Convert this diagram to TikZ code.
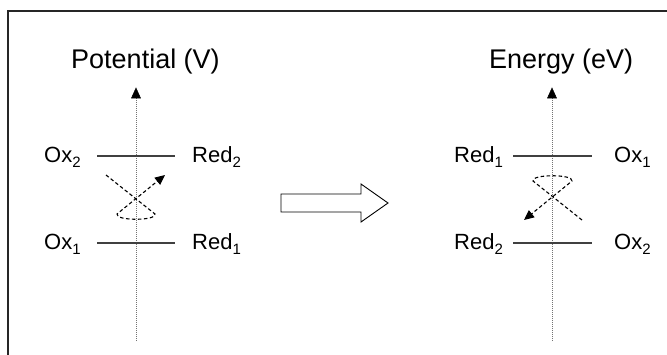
\documentclass[tikz,border=0pt]{standalone}
\usepackage{fontspec}
\setmainfont{Liberation Sans}
\usetikzlibrary{arrows.meta}
\newcommand\sbs[1]{\raisebox{-5pt}{\fontsize{15}{15}\selectfont #1}}
\begin{document}
\begin{tikzpicture}[x=1pt,y=-1pt,
  title/.style={anchor=base west,inner sep=0pt,font=\fontsize{27}{30}\selectfont},
  lbl/.style={anchor=base west,inner sep=0pt,font=\fontsize{22}{24}\selectfont},
  axis/.style={draw=black!55,line width=1pt,dash pattern=on 1pt off 1pt},
  axtip/.style={draw=black,fill=black,line width=0.5pt},
  level/.style={draw=black!75,line width=1.3pt},
  dsh/.style={draw=black,line width=1.1pt,dash pattern=on 3.5pt off 2.5pt},
  dsharrow/.style={dsh,-{Triangle[length=10pt,width=9pt,color=black]}},
  frame/.style={draw=black!85,line width=1.5pt},
  block/.style={draw=black,line width=0.9pt,fill=white}]
\useasboundingbox (0,0) rectangle (667,354);
% frame
\coordinate (fbl) at (8,360);
\coordinate (ftl) at (8,11);
\coordinate (ftr) at (672,11);
\draw[frame] (fbl) -- (ftl) -- (ftr);
% titles
\node[title] (t1) at (71,68) {Potential (V)};
\node[title] (t2) at (489,68) {Energy (eV)};
% axes
\coordinate (a1b) at (136,341);
\coordinate (a1m) at (136,98);
\coordinate (a1t) at (136,88);
\coordinate (a1l) at (131.5,98);
\coordinate (a1r) at (140.5,98);
\coordinate (a2b) at (552,341);
\coordinate (a2m) at (552,98);
\coordinate (a2t) at (552,88);
\coordinate (a2l) at (547.5,98);
\coordinate (a2r) at (556.5,98);
\draw[axis] (a1b) -- (a1m);
\draw[axis] (a2b) -- (a2m);
\filldraw[axtip] (a1l) -- (a1t) -- (a1r) -- cycle;
\filldraw[axtip] (a2l) -- (a2t) -- (a2r) -- cycle;
% levels left
\coordinate (l1a) at (97,156); \coordinate (l1b) at (175,156);
\coordinate (l2a) at (97,243); \coordinate (l2b) at (175,243);
\draw[level] (l1a) -- (l1b);
\draw[level] (l2a) -- (l2b);
% levels right
\coordinate (r1a) at (513,156); \coordinate (r1b) at (592,156);
\coordinate (r2a) at (513,243); \coordinate (r2b) at (592,243);
\draw[level] (r1a) -- (r1b);
\draw[level] (r2a) -- (r2b);
% labels left
\node[lbl] (ox2) at (44,162) {Ox\sbs{2}};
\node[lbl] (red2) at (192,162) {Red\sbs{2}};
\node[lbl] (ox1) at (44,249) {Ox\sbs{1}};
\node[lbl] (red1) at (192,249) {Red\sbs{1}};
% labels right
\node[lbl] (rred1) at (454,162) {Red\sbs{1}};
\node[lbl] (rox1) at (614,162) {Ox\sbs{1}};
\node[lbl] (rred2) at (454,249) {Red\sbs{2}};
\node[lbl] (rox2) at (614,249) {Ox\sbs{2}};
% dashed loops
\coordinate (p1) at (106,175);
\coordinate (p2) at (155,214);
\coordinate (p3) at (117,214);
\coordinate (p4) at (165,175);
\draw[dsharrow] (p1) -- (p2) .. controls (157,221) and (115,221) .. (p3) -- (p4);
\coordinate (q1) at (582,220);
\coordinate (q2) at (533,181);
\coordinate (q3) at (572,181);
\coordinate (q4) at (524,220);
\draw[dsharrow] (q1) -- (q2) .. controls (531,174) and (574,174) .. (q3) -- (q4);
% block arrow
\coordinate (b1) at (281,194);
\coordinate (b2) at (361,194);
\coordinate (b3) at (361,184);
\coordinate (b4) at (388,203);
\coordinate (b5) at (361,222);
\coordinate (b6) at (361,212);
\coordinate (b7) at (281,212);
\draw[block] (b1) -- (b2) -- (b3) -- (b4) -- (b5) -- (b6) -- (b7) -- cycle;
\end{tikzpicture}
\end{document}
